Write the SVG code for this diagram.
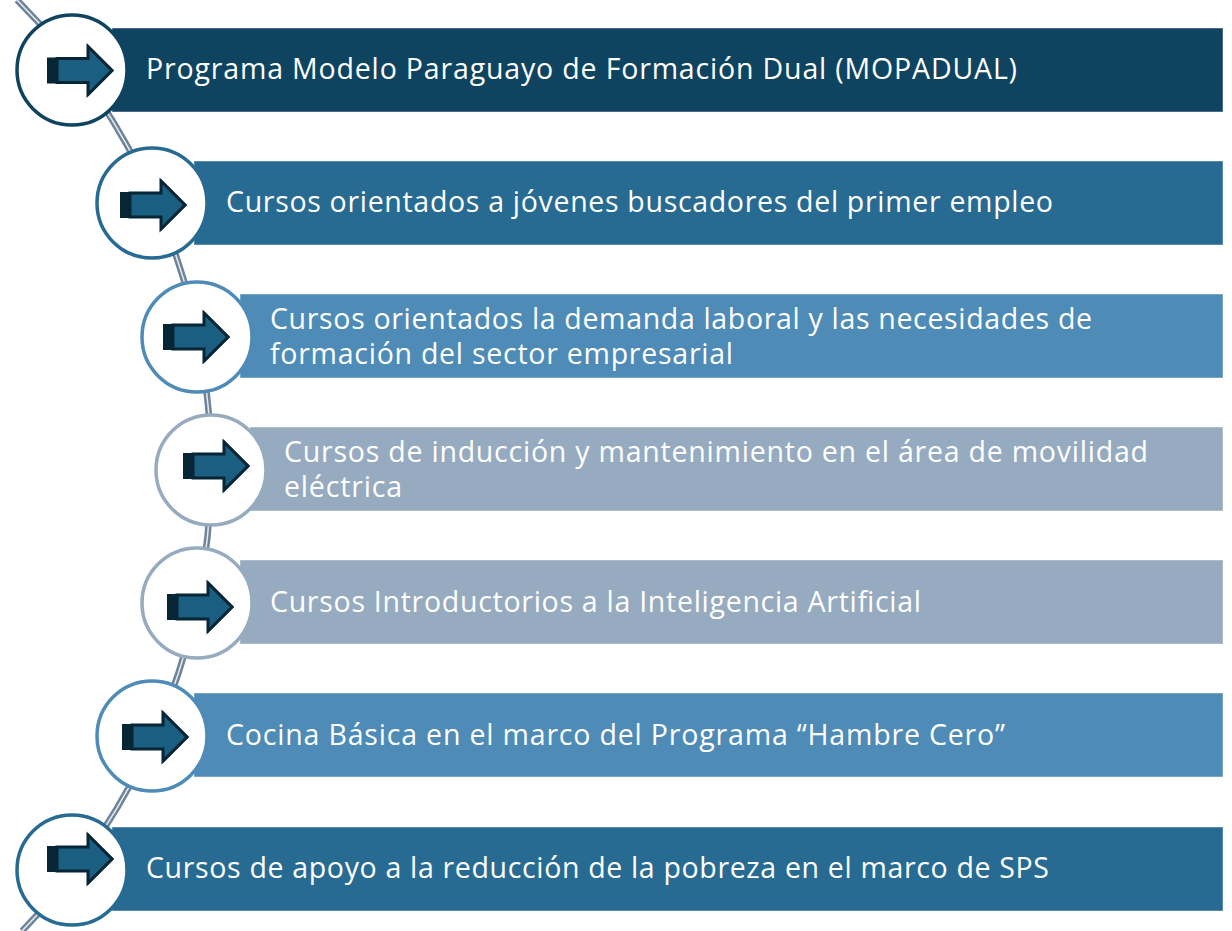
<svg xmlns="http://www.w3.org/2000/svg" xmlns:xlink="http://www.w3.org/1999/xlink" width="1232" height="931" viewBox="0 0 1232 931">
<style>
.bar{stroke:#ffffff;stroke-opacity:0.45;stroke-width:1}
.ring{fill:#ffffff;stroke-width:3.5}
.t{font-family:"Open Sans","Liberation Sans",sans-serif;font-size:28.5px;fill:#ffffff}
</style>
<defs>
<g id="arr">
<path d="M-10,-13 H31 V-26 L57,0 L31,26 V13 H-10 Z" fill="#062535"/>
<path d="M0,-12 H31 V-24 L55,0 L31,24 V12 H0 Z" fill="#1a5e82" stroke="#062535" stroke-width="3" stroke-linejoin="miter"/>
</g>
</defs>
<rect width="1232" height="931" fill="#ffffff"/>
<g id="connectors">
<path d="M17,0 A661.6,661.6 0 0 1 22,931" fill="none" stroke="#6f8499" stroke-width="6.5"/>
<path d="M17,0 A661.6,661.6 0 0 1 22,931" fill="none" stroke="#e6ecf1" stroke-width="1.5"/>
</g>
<g id="node1">
<rect class="bar" x="112" y="28" width="1111" height="84" fill="#0f4461"/>
<circle class="ring" cx="72" cy="70" r="55" stroke="#0f4461"/>
<use xlink:href="#arr" href="#arr" x="57" y="70.5"/>
<text class="t" x="146" y="79" textLength="871" lengthAdjust="spacing">Programa Modelo Paraguayo de Formación Dual (MOPADUAL)</text>
</g>
<g id="node2">
<rect class="bar" x="194" y="161" width="1029" height="84" fill="#276b93"/>
<circle class="ring" cx="152" cy="203" r="55" stroke="#276b93"/>
<use xlink:href="#arr" href="#arr" x="130" y="205"/>
<text class="t" x="226" y="212" textLength="827" lengthAdjust="spacing">Cursos orientados a jóvenes buscadores del primer empleo</text>
</g>
<g id="node3">
<rect class="bar" x="240" y="294" width="983" height="84" fill="#4e8bb7"/>
<circle class="ring" cx="197" cy="337" r="55" stroke="#4e8bb7"/>
<use xlink:href="#arr" href="#arr" x="173" y="337"/>
<text class="t" x="270" y="329" textLength="822" lengthAdjust="spacing">Cursos orientados la demanda laboral y las necesidades de</text>
<text class="t" x="270" y="364" textLength="463" lengthAdjust="spacing">formación del sector empresarial</text>
</g>
<g id="node4">
<rect class="bar" x="250" y="427" width="973" height="84" fill="#96abbf"/>
<circle class="ring" cx="211" cy="470" r="55" stroke="#96abbf"/>
<use xlink:href="#arr" href="#arr" x="193" y="466"/>
<text class="t" x="284" y="462" textLength="864" lengthAdjust="spacing">Cursos de inducción y mantenimiento en el área de movilidad</text>
<text class="t" x="284" y="497" textLength="118" lengthAdjust="spacing">eléctrica</text>
</g>
<g id="node5">
<rect class="bar" x="240" y="560" width="983" height="84" fill="#96abbf"/>
<circle class="ring" cx="197" cy="603" r="55" stroke="#96abbf"/>
<use xlink:href="#arr" href="#arr" x="177" y="607"/>
<text class="t" x="270" y="612" textLength="651" lengthAdjust="spacing">Cursos Introductorios a la Inteligencia Artificial</text>
</g>
<g id="node6">
<rect class="bar" x="194" y="693" width="1029" height="84" fill="#4e8bb7"/>
<circle class="ring" cx="152" cy="736" r="55" stroke="#4e8bb7"/>
<use xlink:href="#arr" href="#arr" x="132" y="737"/>
<text class="t" x="226" y="745" textLength="779" lengthAdjust="spacing">Cocina Básica en el marco del Programa “Hambre Cero”</text>
</g>
<g id="node7">
<rect class="bar" x="112" y="827" width="1111" height="84" fill="#276b93"/>
<circle class="ring" cx="72" cy="870" r="55" stroke="#276b93"/>
<use xlink:href="#arr" href="#arr" x="57" y="859"/>
<text class="t" x="146" y="878" textLength="903" lengthAdjust="spacing">Cursos de apoyo a la reducción de la pobreza en el marco de SPS</text>
</g>
</svg>
